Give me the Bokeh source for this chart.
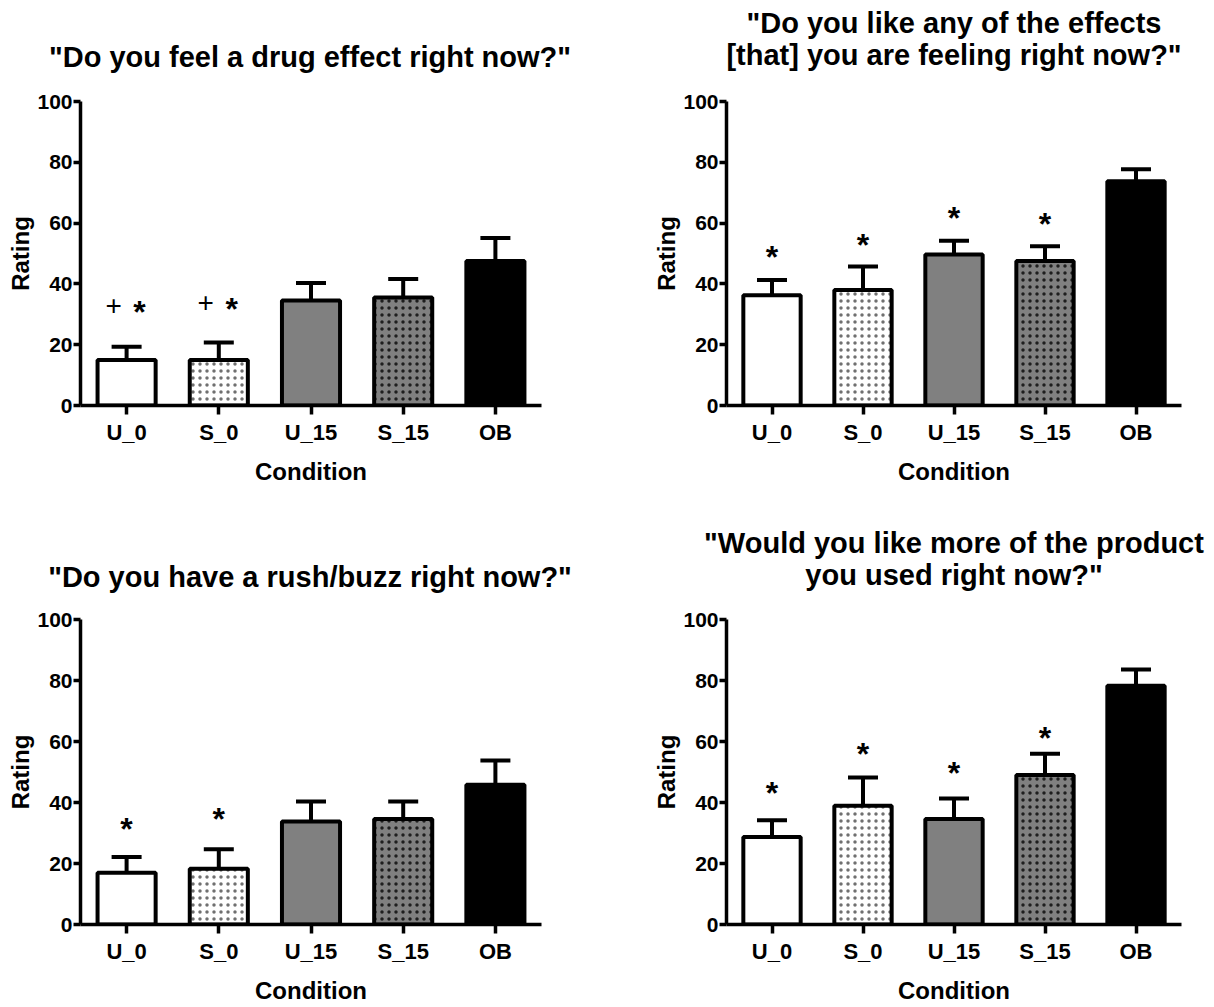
from bokeh.plotting import figure
from bokeh.models import (FactorRange, Range1d, FixedTicker, ColumnDataSource,
                          Whisker, TeeHead, Label)
from bokeh.layouts import gridplot, column
from bokeh.embed import file_html
from bokeh.resources import INLINE
from bokeh.core.properties import value

NaN = float("nan")

# ---------------- data ----------------
categories = ["U_0", "S_0", "U_15", "S_15", "OB"]
y_ticks = [0, 20, 40, 60, 80, 100]

feel_title = ['"Do you feel a drug effect right now?"']
feel_mean = [15.0, 15.0, 34.5, 35.5, 47.5]
feel_sem = [4.3, 5.7, 5.8, 6.1, 7.6]
feel_star = [33.0, 34.0, NaN, NaN, NaN]
feel_plus = [33.0, 34.0, NaN, NaN, NaN]

like_title = ['"Do you like any of the effects', '[that] you are feeling right now?"']
like_mean = [36.3, 38.0, 49.7, 47.5, 73.8]
like_sem = [5.0, 7.7, 4.5, 4.9, 3.9]
like_star = [51.0, 55.0, 64.0, 62.0, NaN]
like_plus = [NaN, NaN, NaN, NaN, NaN]

rush_title = ['"Do you have a rush/buzz right now?"']
rush_mean = [17.0, 18.3, 33.8, 34.6, 45.8]
rush_sem = [5.1, 6.4, 6.5, 5.7, 8.0]
rush_star = [33.5, 37.0, NaN, NaN, NaN]
rush_plus = [NaN, NaN, NaN, NaN, NaN]

more_title = ['"Would you like more of the product', 'you used right now?"']
more_mean = [28.7, 38.9, 34.6, 49.0, 78.3]
more_sem = [5.5, 9.3, 6.7, 7.0, 5.3]
more_star = [45.5, 58.3, 52.0, 63.6, NaN]
more_plus = [NaN, NaN, NaN, NaN, NaN]

# ---------------- style / layout ----------------
BAR_FILL = ["white", "white", "#808080", "#808080", "black"]
BAR_HATCH = [" ", ".", " ", ".", " "]
HATCH_COLOR = ["#707070", "#707070", "#1e1e1e", "#1e1e1e", "black"]
FONT = "Liberation Sans"

COL_W = [606, 604]
COL_LR = [(80, 65), (120, 29)]
TITLE_H = [80, 92]                 # height of the title strip above each row
ROW_H = [428, 406]
ROW_TB = [(21, 103), (19, 81)]
TITLE_Y = [[24], [58, 26], [24], [58, 26]]   # label offsets inside the strip, px


def make_title_strip(r, left_lines, right_lines):
    total_w = sum(COL_W)
    t = figure(width=total_w, height=TITLE_H[r], x_range=Range1d(0, 1),
               y_range=Range1d(0, 1), x_axis_type=None, y_axis_type=None,
               output_backend="svg", toolbar_location=None, min_border=0)
    t.title.visible = False
    t.outline_line_color = None
    t.grid.visible = False
    centers = [COL_LR[0][0] + (COL_W[0] - sum(COL_LR[0])) / 2 - 1,
               COL_W[0] + COL_LR[1][0] + (COL_W[1] - sum(COL_LR[1])) / 2]
    for c, (lines, ys) in enumerate(zip((left_lines, right_lines),
                                        (TITLE_Y[2 * r], TITLE_Y[2 * r + 1]))):
        for line, y in zip(lines, ys):
            t.add_layout(Label(x=centers[c], y=y, x_units="screen", y_units="screen",
                               text=line, text_font=FONT, text_font_size="29px",
                               text_font_style="bold", text_color="black",
                               text_align="center", text_baseline="alphabetic"))
    return t


def make_panel(idx, mean, sem, star, plus):
    r, c = divmod(idx, 2)
    width, height = COL_W[c], ROW_H[r]
    left, right = COL_LR[c]
    top, bottom = ROW_TB[r]
    p = figure(width=width, height=height, x_range=FactorRange(*categories),
               y_range=Range1d(0, 100), output_backend="svg", toolbar_location=None,
               min_border_left=left, min_border_right=right,
               min_border_top=top, min_border_bottom=bottom)
    p.title.visible = False

    hi = [m + s for m, s in zip(mean, sem)]
    has_plus = [0 if (v != v) else 1 for v in plus]
    star_dx = [13 if h else 0 for h in has_plus]
    src = ColumnDataSource(dict(x=categories, top=mean, hi=hi, star=star, plus=plus,
                                star_dx=star_dx, fill=BAR_FILL, hatch=BAR_HATCH,
                                hcol=HATCH_COLOR))
    p.vbar(x="x", top="top", bottom=0, width=0.63, source=src, fill_color="fill",
           line_color="black", line_width=4, hatch_pattern="hatch", hatch_color="hcol",
           hatch_scale=7, hatch_weight=1.1)
    p.add_layout(Whisker(source=src, base="x", lower="top", upper="hi",
                         dimension="height", line_width=4, line_color="black",
                         upper_head=TeeHead(size=30, line_width=4, line_color="black"),
                         lower_head=None, level="annotation"))
    p.text(x="x", y="star", text=value("*"), source=src, x_offset="star_dx",
           text_font=value(FONT), text_font_style="bold", text_font_size="32px",
           text_align="center", text_baseline="middle", y_offset=7, text_color="black")
    p.text(x="x", y="plus", text=value("+"), source=src, x_offset=-13,
           text_font=value(FONT), text_font_size="28px",
           text_align="center", text_baseline="middle", text_color="black")

    p.xgrid.visible = False
    p.ygrid.visible = False
    p.outline_line_color = None
    for ax in (p.xaxis[0], p.yaxis[0]):
        ax.axis_line_width = 3.5
        ax.axis_line_color = "black"
        ax.major_tick_line_width = 3.5
        ax.major_tick_line_color = "black"
        ax.major_tick_in = 0
        ax.minor_tick_line_color = None
        ax.major_label_text_font = FONT
        ax.major_label_text_font_style = "bold"
        ax.major_label_text_color = "black"
        ax.axis_label_text_font = FONT
        ax.axis_label_text_font_style = "bold"
        ax.axis_label_text_font_size = "24px"
        ax.axis_label_text_color = "black"
    p.yaxis.ticker = FixedTicker(ticks=y_ticks)
    p.yaxis.major_tick_out = 7
    p.yaxis.major_label_text_font_size = "21px"
    p.yaxis.major_label_standoff = 1
    p.yaxis.axis_label = "Rating"
    p.yaxis.axis_label_standoff = 0
    p.xaxis.major_tick_out = 9
    p.xaxis.major_label_text_font_size = "22px"
    p.xaxis.major_label_standoff = 5
    p.xaxis.axis_label = "Condition"
    p.xaxis.axis_label_standoff = 10
    return p


t1 = make_title_strip(0, feel_title, like_title)
p1 = make_panel(0, feel_mean, feel_sem, feel_star, feel_plus)
p2 = make_panel(1, like_mean, like_sem, like_star, like_plus)
t2 = make_title_strip(1, rush_title, more_title)
p3 = make_panel(2, rush_mean, rush_sem, rush_star, rush_plus)
p4 = make_panel(3, more_mean, more_sem, more_star, more_plus)

row1 = gridplot([[p1, p2]], toolbar_location=None)
row2 = gridplot([[p3, p4]], toolbar_location=None)
page = column(t1, row1, t2, row2, spacing=0)
open("out.html", "w").write(file_html(page, INLINE))
